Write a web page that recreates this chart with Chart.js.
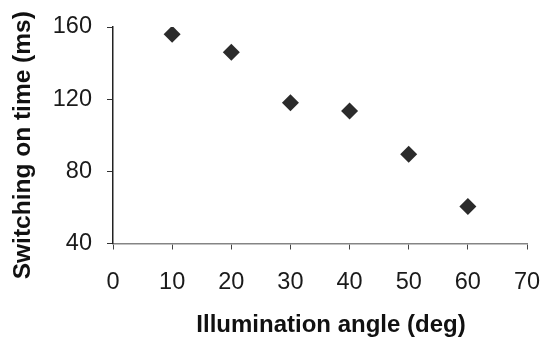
<!DOCTYPE html>
<html>
<head>
<meta charset="utf-8">
<script src="https://cdn.jsdelivr.net/npm/chart.js@4"></script>
<style>
  html, body { margin: 0; padding: 0; background: #fff; }
  .chartBox { width: 547px; height: 341px; }
</style>
</head>
<body>
<div class="chartBox">
  <canvas id="switchChart"></canvas>
</div>
<script>
// switching-on time measured at each illumination angle
const angles = [10, 20, 30, 40, 50, 60];
const switchOnTimes = [156, 146, 118, 113.5, 89.5, 60.5];
const xTicks = [0, 10, 20, 30, 40, 50, 60, 70];
const yTicks = [40, 80, 120, 160];
const xTitle = "Illumination angle (deg)";
const yTitle = "Switching on time (ms)";

const fontFamily = "'Liberation Sans', Arial, sans-serif";
const tickFont = { family: fontFamily, size: 23.5 };

// axis titles sit a little off the plot centre, so they are drawn here
const axisTitles = {
  id: "axisTitles",
  afterDraw(chart) {
    const { ctx, chartArea } = chart;
    ctx.save();
    ctx.fillStyle = "#111";
    ctx.font = "bold 24px " + fontFamily;
    ctx.textAlign = "center";
    ctx.textBaseline = "alphabetic";
    ctx.fillText(xTitle, (chartArea.left + chartArea.right) / 2 + 11, 332);
    ctx.font = "bold 24.5px " + fontFamily;
    ctx.translate(30, (chartArea.top + chartArea.bottom) / 2 + 10);
    ctx.rotate(-Math.PI / 2);
    ctx.fillText(yTitle, 0, 0);
    ctx.restore();
  },
};

new Chart(document.getElementById("switchChart"), {
  type: "scatter",
  data: {
    datasets: [
      {
        data: angles.map((a, i) => ({ x: a, y: switchOnTimes[i] })),
        pointStyle: "rectRot",
        pointRadius: 8.5,
        pointHoverRadius: 8.5,
        backgroundColor: "#2b2b2b",
        borderColor: "#2b2b2b",
        borderWidth: 0,
      },
    ],
  },
  plugins: [axisTitles],
  options: {
    responsive: true,
    maintainAspectRatio: false,
    animation: false,
    layout: {
      padding: { left: 0, top: 27, right: 20, bottom: 0 },
    },
    plugins: {
      legend: { display: false },
      tooltip: { enabled: false },
    },
    scales: {
      x: {
        type: "linear",
        min: 0,
        max: 70,
        afterBuildTicks: (scale) => {
          scale.ticks = xTicks.map((v) => ({ value: v }));
        },
        afterFit: (scale) => {
          scale.height = 97.5;
          scale.paddingLeft = 0;
          scale.paddingRight = 0;
        },
        border: { display: true, color: "#858585", width: 1.5 },
        grid: {
          drawOnChartArea: false,
          drawTicks: true,
          tickLength: 6,
          color: "#444",
        },
        ticks: {
          color: "#1a1a1a",
          font: tickFont,
          padding: 19,
          maxRotation: 0,
        },
      },
      y: {
        type: "linear",
        min: 40,
        max: 160,
        afterBuildTicks: (scale) => {
          scale.ticks = yTicks.map((v) => ({ value: v }));
        },
        afterFit: (scale) => {
          scale.width = 113;
          scale.paddingTop = 0;
          scale.paddingBottom = 0;
        },
        border: { display: true, color: "#222", width: 1.5 },
        grid: {
          drawOnChartArea: false,
          drawTicks: true,
          tickLength: 6,
          color: "#333",
        },
        ticks: {
          color: "#1a1a1a",
          font: tickFont,
          padding: 15,
        },
      },
    },
  },
});
</script>
</body>
</html>
